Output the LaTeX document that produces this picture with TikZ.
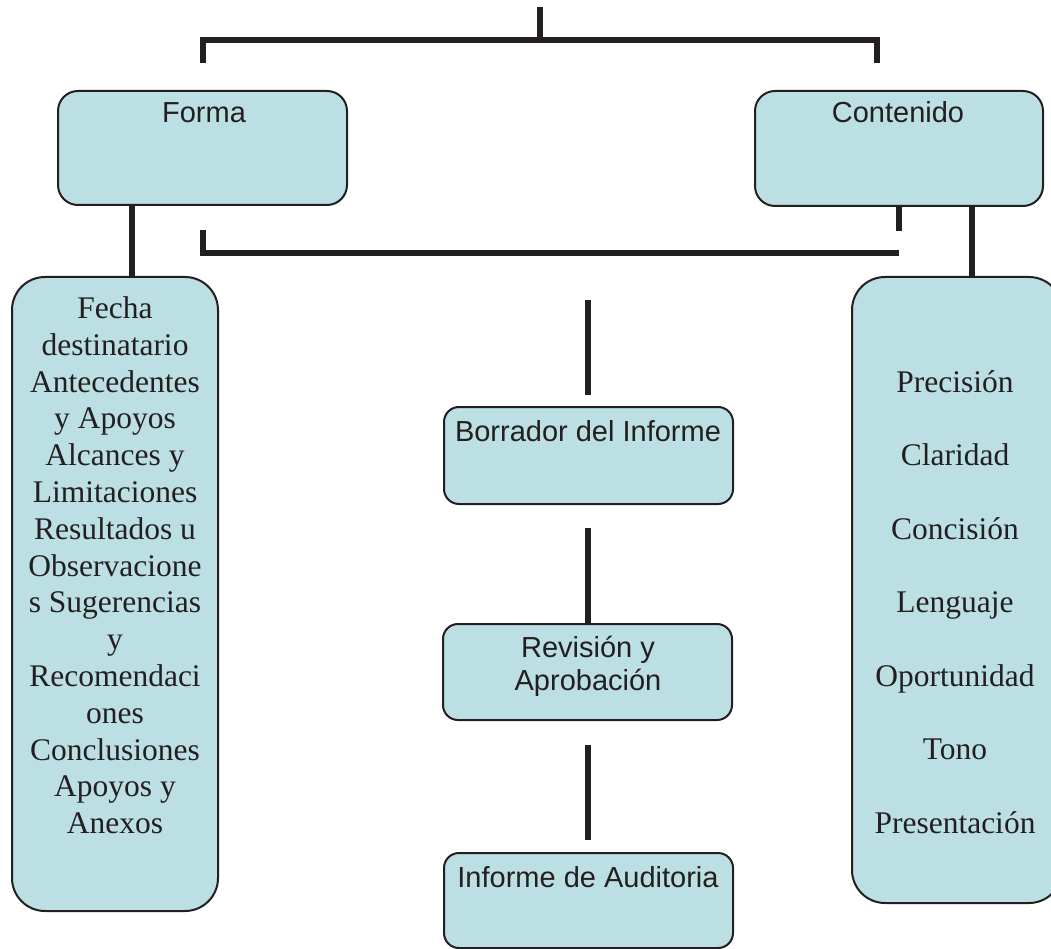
\documentclass[tikz,border=0pt]{standalone}
\usepackage{fontspec}
\newfontfamily\boxsans{Liberation Sans}
\newfontfamily\boxserif{Liberation Serif}
\definecolor{boxfill}{RGB}{188,223,227}
\definecolor{ink}{RGB}{35,31,32}

\begin{document}
\begin{tikzpicture}[x=1pt,y=-1pt,
  box/.style={draw=ink, line width=2pt, fill=boxfill, rectangle, inner sep=0pt},
  conn/.style={draw=ink, line width=5.5pt},
  sanslbl/.style={font=\boxsans\fontsize{29}{33}\selectfont, text=ink, inner sep=0pt, align=center},
  seriflbl/.style={text=ink, inner sep=0pt, align=center}
]
\useasboundingbox (0,0) rectangle (1051,949);

% upper row: the two main categories
\node[box, rounded corners=20pt, minimum width=289pt, minimum height=114pt] (forma) at (202.5,148) {};
\node[box, rounded corners=20pt, minimum width=288pt, minimum height=115pt] (contenido) at (899,148.5) {};
\node[sanslbl, anchor=base] (formaT) at (204,123) {Forma};
\node[sanslbl, anchor=base] (contenidoT) at (898,123) {Contenido};

% side columns with the detail lists
\node[box, rounded corners=33pt, minimum width=206pt, minimum height=634pt] (fecha) at (115,594) {};
\node[box, rounded corners=33pt, minimum width=210pt, minimum height=626pt] (calidad) at (957,590) {};

\node[seriflbl, anchor=north, font=\boxserif\fontsize{31.5}{36.8}\selectfont] (fechaT) at (115,296.5)
  {Fecha\\destinatario\\Antecedentes\\y Apoyos\\Alcances y\\Limitaciones\\Resultados u\\Observacione\\s Sugerencias\\y\\Recomendaci\\ones\\Conclusiones\\Apoyos y\\Anexos};
\node[seriflbl, anchor=north, font=\boxserif\fontsize{31.5}{73.5}\selectfont] (calidadT) at (955,370.3)
  {Precisión\\Claridad\\Concisión\\Lenguaje\\Oportunidad\\Tono\\Presentación};

% central sequence of steps
\node[box, rounded corners=15pt, minimum width=289pt, minimum height=97pt] (borrador) at (588.5,455.5) {};
\node[box, rounded corners=15pt, minimum width=289pt, minimum height=96pt] (revision) at (587.5,672) {};
\node[box, rounded corners=15pt, minimum width=289pt, minimum height=95pt] (informe) at (588.5,900.5) {};
\node[sanslbl, anchor=base] (borradorT) at (588,441) {Borrador del Informe};
\node[sanslbl, anchor=north] (revisionT) at (588,635.5) {Revisión y\\Aprobación};
\node[sanslbl, anchor=base] (informeT) at (588,887) {Informe de Auditoria};

% top bracket
\coordinate (stem) at (540,7);
\coordinate (tkL) at (203,63);
\coordinate (tkR) at (877,63);
\draw[conn] (stem) -- ++(0,33);
\draw[conn] (tkL) -- ++(0,-23) -| (tkR);

% lower bracket between the categories
\coordinate (lbL) at (203,230);
\coordinate (lbR) at (899,253);
\draw[conn] (lbL) |- (lbR);
\draw[conn] (contenido.south -| lbR) -- ++(0,24);

% links from categories to their lists
\coordinate (fx) at (132,0);
\coordinate (cx) at (972,0);
\draw[conn] (forma.south -| fx) -- (fecha.north -| fx);
\draw[conn] (contenido.south -| cx) -- (calidad.north -| cx);

% central links
\coordinate (c1a) at (588,300);
\coordinate (c1b) at (588,395);
\coordinate (c2a) at (588,528);
\coordinate (c3a) at (588,745);
\coordinate (c3b) at (588,840);
\draw[conn] (c1a) -- (c1b);
\draw[conn] (c2a) -- (revision.north -| c2a);
\draw[conn] (c3a) -- (c3b);
\end{tikzpicture}
\end{document}
